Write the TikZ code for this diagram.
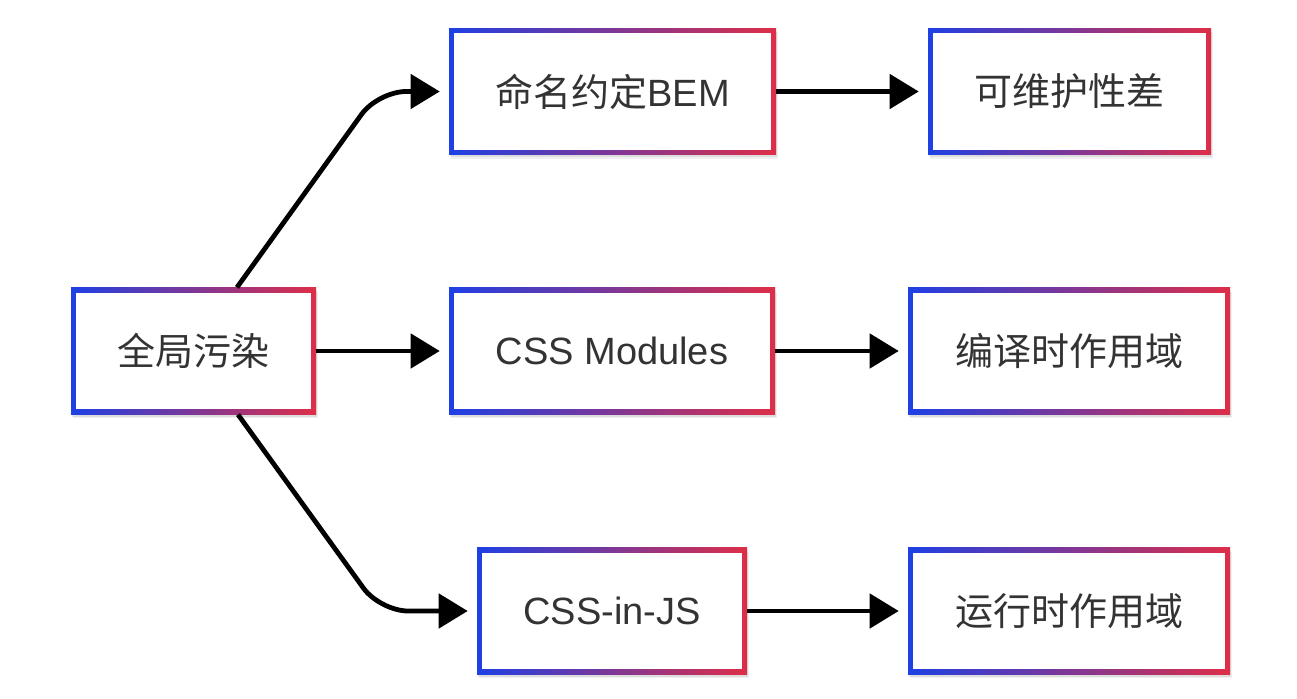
\documentclass[tikz,border=0pt]{standalone}
\usepackage{fontspec}
\setmainfont{Liberation Sans}
\newfontfamily\cjk{Noto Sans CJK SC}
\usetikzlibrary{arrows.meta,shadows}
\definecolor{gb}{RGB}{30,64,228}
\definecolor{gr}{RGB}{222,46,72}
\definecolor{txt}{RGB}{51,51,51}
\begin{document}
\begin{tikzpicture}[x=0.75pt,y=-0.75pt,
  gbox/.style={rectangle, inner sep=0pt, minimum height=95pt, fill=white, text=txt,
    font=\fontsize{28.5}{34}\selectfont,
    general shadow={fill=black, opacity=0.06, shadow xshift=1.5pt, shadow yshift=-3pt},
    general shadow={fill=black, opacity=0.08, shadow xshift=1pt, shadow yshift=-1.8pt},
    path picture={
      \shade[left color=gb,right color=gr] (path picture bounding box.south west) rectangle (path picture bounding box.north east);
      \fill[white] ([shift={(3.75pt,3.75pt)}]path picture bounding box.south west) rectangle ([shift={(-3.75pt,-3.75pt)}]path picture bounding box.north east);
    }},
  arr/.style={line width=3.6pt, -{Triangle[length=21.75pt,width=25.5pt]}, shorten >=6.75pt, rounded corners=21pt}]
\useasboundingbox[fill=white] (0,0) rectangle (1297,699);

\node[gbox, minimum width=183.75pt] (A) at (193.5,351) {{\cjk 全局污染}};
\node[gbox, minimum width=245.25pt] (B) at (612.5,91.5) {{\cjk 命名约定}BEM};
\node[gbox, minimum width=244.5pt] (C) at (612,351) {CSS Modules};
\node[gbox, minimum width=202.5pt] (D) at (612,611) {CSS-in-JS};
\node[gbox, minimum width=212.25pt] (E) at (1069.5,91.5) {{\cjk 可维护性差}};
\node[gbox, minimum width=241.5pt] (F) at (1069,351) {{\cjk 编译时作用域}};
\node[gbox, minimum width=241.5pt] (G) at (1069,611) {{\cjk 运行时作用域}};

\coordinate (kAB) at (378,91.5);
\coordinate (kAD) at (380,611);

\draw[arr] ([xshift=32.6pt]A.north) -- (kAB) -- (B.west);
\draw[arr] ([xshift=33.4pt]A.south) -- (kAD) -- (D.west);
\draw[arr] (A) -- (C);
\draw[arr] (B) -- (E);
\draw[arr] (C) -- (F);
\draw[arr] (D) -- (G);
\end{tikzpicture}
\end{document}
